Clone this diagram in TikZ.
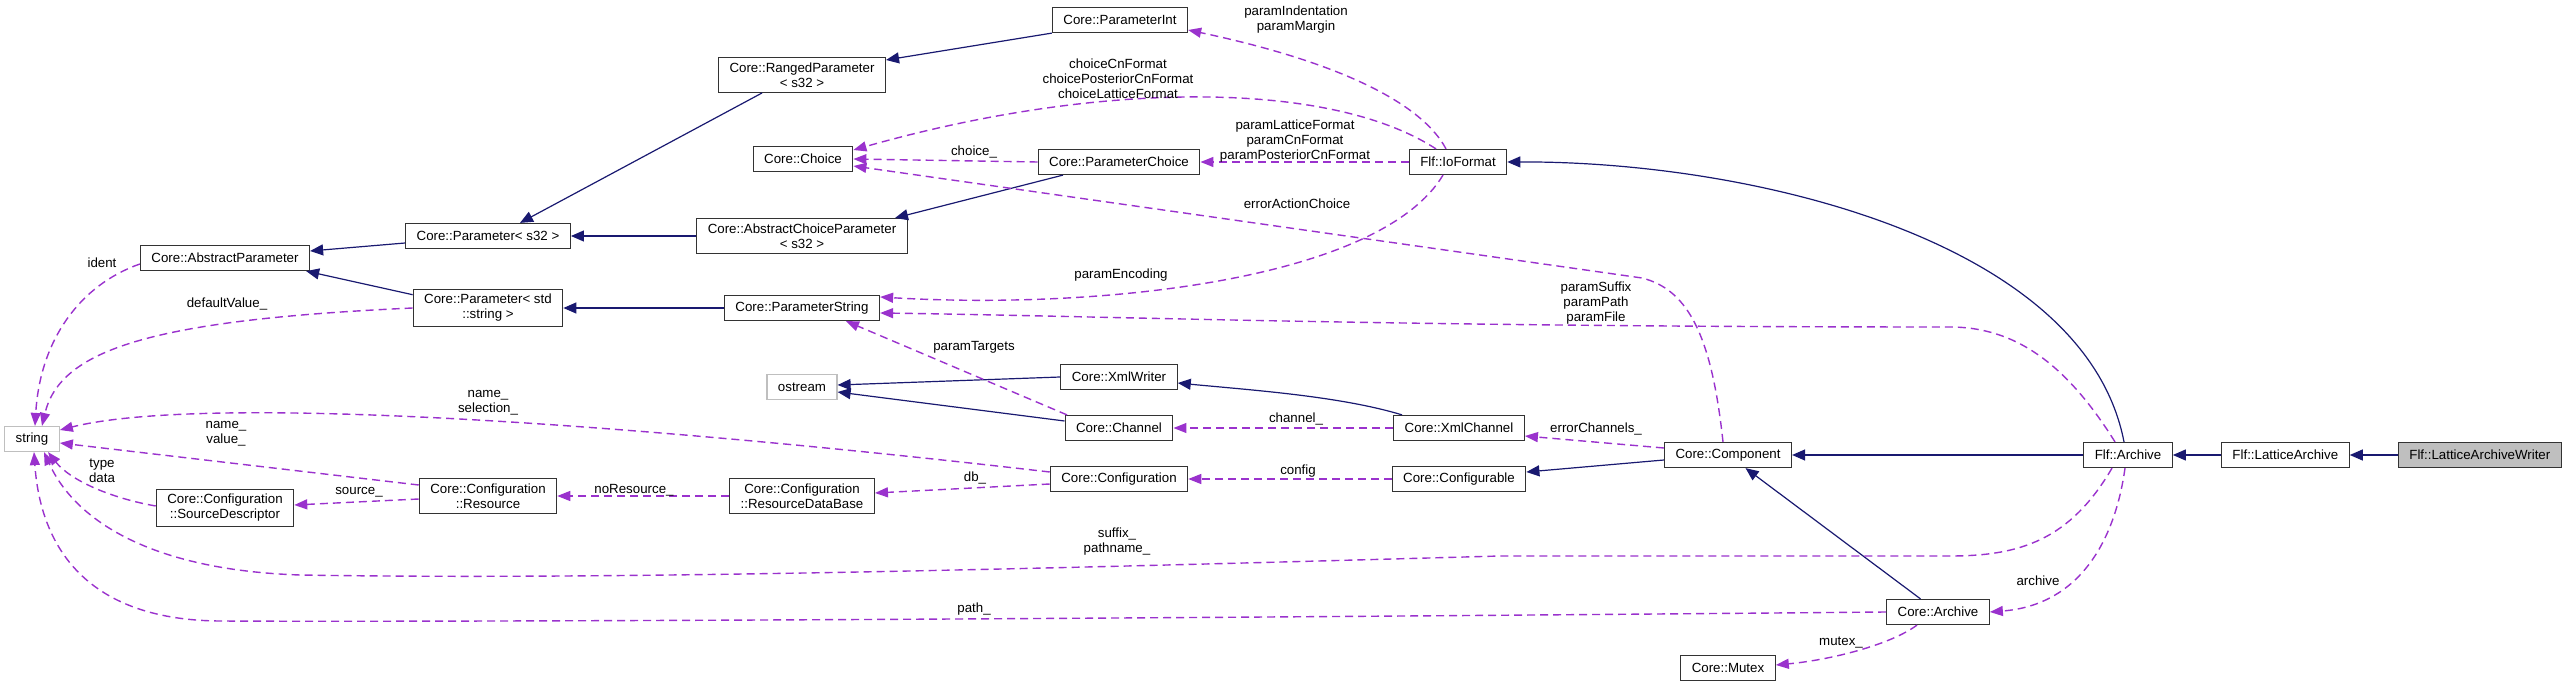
\documentclass[tikz,border=0pt]{standalone}
\usepackage{fontspec}
\setmainfont{Liberation Sans}
\usepackage{tikz}
\usetikzlibrary{positioning}
\usetikzlibrary{arrows.meta}

\definecolor{inhblue}{HTML}{191970}
\definecolor{usepurple}{HTML}{9A32CD}
\definecolor{extgray}{HTML}{BFBFBF}

\begin{document}
\begin{tikzpicture}[
x=1pt, y=-1pt,
node distance=48pt,
classbox/.style={rectangle, draw=black!80, line width=1.2pt, fill=white, align=center,
  inner xsep=11pt, inner ysep=5pt, minimum height=25pt,
  font=\fontsize{13.3}{15}\selectfont},
extbox/.style={classbox, draw=extgray},
mainbox/.style={classbox, fill=extgray},
lbl/.style={align=center, inner sep=0pt, font=\fontsize{13.3}{15}\selectfont},
inherit/.style={-{Triangle[length=13pt,width=11pt]}, draw=inhblue, line width=1.2pt},
member/.style={-{Triangle[length=13pt,width=10pt]}, draw=usepurple, line width=1.4pt,
  dash pattern=on 8pt off 5pt}
]
\path[use as bounding box] (0,0) rectangle (2568,687);

%Nodes
\node[extbox]  (str)     at (32,439)   {string};
\node[classbox] (ap)     at (225,258)  {Core::AbstractParameter};
\node[classbox] (p32)    at (488,236)  {Core::Parameter< s32 >};
\node[classbox] (pstd)   at (488,308)  {Core::Parameter< std\\::string >};
\node[classbox] (sd)     at (225,508)  {Core::Configuration\\::SourceDescriptor};
\node[classbox] (res)    at (488,496)  {Core::Configuration\\::Resource};
\node[classbox] (pint)   at (1120,20)  {Core::ParameterInt};
\node[classbox] (rp)     at (802,75)   {Core::RangedParameter\\< s32 >};
\node[classbox] (choice) at (803,159)  {Core::Choice};
\node[classbox] (pch)    at (1119,162) {Core::ParameterChoice};
\node[classbox] (acp)    at (802,236)  {Core::AbstractChoiceParameter\\< s32 >};
\node[classbox] (pstr)   at (802,308)  {Core::ParameterString};
\node[classbox] (iof)    at (1458,162) {Flf::IoFormat};
\node[extbox]  (ostr)    at (802,387)  {ostream};
\node[classbox] (xmlw)   at (1119,377) {Core::XmlWriter};
\node[classbox] (chan)   at (1119,428) {Core::Channel};
\node[classbox] (xmlch)  at (1459,428) {Core::XmlChannel};
\node[classbox] (cfg)    at (1119,479) {Core::Configuration};
\node[classbox] (rdb)    at (802,496)  {Core::Configuration\\::ResourceDataBase};
\node[classbox] (cfgable) at (1459,479) {Core::Configurable};
\node[classbox] (comp)   at (1728,455) {Core::Component};
\node[classbox] (carch)  at (1938,612) {Core::Archive};
\node[classbox] (mutex)  at (1728,668) {Core::Mutex};
\node[classbox] (fa)     at (2128,455) {Flf::Archive};
\node[classbox] (la)     [right=of fa] {Flf::LatticeArchive};
\node[mainbox]  (law)    [right=of la] {Flf::LatticeArchiveWriter};

%Lines
\draw[inherit] (law) -- (la);
\draw[inherit] (la) -- (fa);
\draw[inherit] (fa) -- (comp);
\draw[inherit] ([xshift=-4pt]fa.north) .. controls (2085,240) and (1750,161) .. (iof.east);
\draw[inherit] ([yshift=-5pt]comp.west) -- ([yshift=7pt]cfgable.east);
\draw[inherit] (carch) -- (comp);
\draw[inherit] ([xshift=9pt]xmlch.north west) .. controls (1340,396) and (1250,390) .. ([yshift=-6pt]xmlw.east);
\draw[inherit] (xmlw.west) -- ([yshift=2pt]ostr.east);
\draw[inherit] ([yshift=7pt]chan.west) -- ([yshift=-5pt]ostr.east);
\draw[inherit] (pint.south west) -- ([yshift=15pt]rp.east);
\draw[inherit] ([xshift=-40pt]rp.south) -- ([xshift=32pt]p32.north);
\draw[inherit] (acp) -- (p32);
\draw[inherit] ([xshift=-56pt]pch.south) -- ([xshift=93pt]acp.north);
\draw[inherit] (pstr) -- (pstd);
\draw[inherit] ([yshift=-7pt]p32.west) -- ([yshift=7pt]ap.east);
\draw[inherit] ([yshift=-6pt]pstd.north west) -- ([xshift=-4pt]ap.south east);

\draw[member] ([yshift=-6pt]ap.west) .. controls (80,285) and (40,340) .. ([xshift=3pt]str.north);
\draw[member] (pstd.west) .. controls (150,320) and (60,350) .. ([xshift=10pt]str.north);
\draw[member] ([yshift=7pt]cfg.west) .. controls (600,420) and (200,395) .. ([yshift=9pt]str.east);
\draw[member] ([yshift=11pt]res.west) -- ([yshift=-4pt]str.east);
\draw[member] ([yshift=2pt]sd.west) .. controls (110,498) and (70,480) .. ([xshift=16pt]str.south);
\draw[member] ([yshift=-3pt]res.west) -- ([yshift=3pt]sd.east);
\draw[member] (rdb.west) -- (res.east);
\draw[member] ([yshift=-5pt]cfg.west) -- ([yshift=3pt]rdb.east);
\draw[member] (cfgable) -- (cfg);
\draw[member] (xmlch) -- (chan);
\draw[member] ([yshift=7pt]comp.west) -- ([yshift=-8pt]xmlch.east);
\draw[member] ([xshift=-52pt]chan.north) -- ([xshift=44pt]pstr.south);
\draw[member] ([xshift=-12pt]iof.north) .. controls (1420,100) and (1330,60) .. ([yshift=-10pt]pint.east);
\draw[member] ([xshift=-22pt]iof.north) .. controls (1330,80) and (1100,80) .. ([yshift=9pt]choice.east);
\draw[member] (pch.west) -- (choice.east);
\draw[member] (iof) -- (pch);
\draw[member] ([xshift=-5pt]comp.north) .. controls (1712,340) and (1690,290) .. (1642,278) -- ([yshift=-7pt]choice.east);
\draw[member] ([xshift=-15pt]iof.south) .. controls (1380,280) and (1100,310) .. ([yshift=11pt]pstr.east);
\draw[member] ([xshift=-13pt]fa.north) .. controls (2070,370) and (2020,327) .. (1950,327) .. controls (1400,327) and (1100,316) .. ([yshift=-5pt]pstr.east);
\draw[member] ([xshift=-16pt]fa.south) .. controls (2070,540) and (2020,556) .. (1950,556) -- (1500,556) .. controls (1000,570) and (600,580) .. (300,575) .. controls (150,570) and (75,520) .. ([xshift=12pt]str.south);
\draw[member] (carch.west) .. controls (1000,620) and (400,622) .. (220,621) .. controls (80,620) and (40,540) .. ([xshift=2pt]str.south);
\draw[member] ([xshift=-3pt]fa.south) .. controls (2115,540) and (2080,605) .. (carch.east);
\draw[member] ([xshift=-21pt]carch.south) .. controls (1890,645) and (1830,660) .. ([yshift=3pt]mutex.east);

%Labels
\node[lbl] (tIdent)   at (102,263)  {ident};
\node[lbl] (tDefault) at (227,304)  {defaultValue\_};
\node[lbl] (tNameSel) at (488,403)  {name\_\\selection\_};
\node[lbl] (tNameVal) at (226,434)  {name\_\\value\_};
\node[lbl] (tType)    at (102,471)  {type\\data};
\node[lbl] (tSource)  at (359,492)  {source\_};
\node[lbl] (tNoRes)   at (634,490)  {noResource\_};
\node[lbl] (tIndent)  at (1296,20)  {paramIndentation\\paramMargin};
\node[lbl] (tChoices) at (1118,79)  {choiceCnFormat\\choicePosteriorCnFormat\\choiceLatticeFormat};
\node[lbl] (tChoice)  at (974,152)  {choice\_};
\node[lbl] (tParams)  at (1295,141) {paramLatticeFormat\\paramCnFormat\\paramPosteriorCnFormat};
\node[lbl] (tErrAct)  at (1297,204) {errorActionChoice};
\node[lbl] (tEnc)     at (1121,275) {paramEncoding};
\node[lbl] (tTargets) at (974,347)  {paramTargets};
\node[lbl] (tChannel) at (1296,419) {channel\_};
\node[lbl] (tDb)      at (975,478)  {db\_};
\node[lbl] (tConfig)  at (1298,471) {config};
\node[lbl] (tErrCh)   at (1596,429) {errorChannels\_};
\node[lbl] (tSuffix)  at (1117,542) {suffix\_\\pathname\_};
\node[lbl] (tPath)    at (974,609)  {path\_};
\node[lbl] (tFiles)   at (1596,303) {paramSuffix\\paramPath\\paramFile};
\node[lbl] (tArchive) at (2038,581) {archive};
\node[lbl] (tMutex)   at (1841,643) {mutex\_};

\end{tikzpicture}
\end{document}
